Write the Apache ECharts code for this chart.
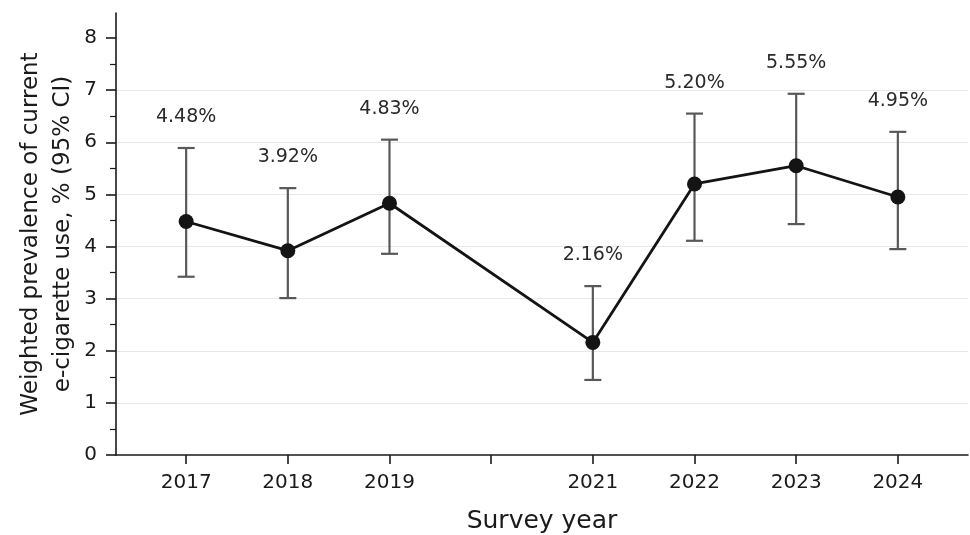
<!DOCTYPE html>
<html>
<head>
<meta charset="utf-8">
<script src="https://cdn.jsdelivr.net/npm/echarts@6/dist/echarts.min.js"></script>
<style>
  html, body { margin: 0; padding: 0; background: #ffffff; }
  #chart { width: 970px; height: 535px; }
</style>
</head>
<body>
<div id="chart"></div>
<script>
// Survey years and weighted prevalence of current e-cigarette use (%) with 95% CI
const years = [2017, 2018, 2019, 2021, 2022, 2023, 2024];
const prevalence = [4.48, 3.92, 4.83, 2.16, 5.20, 5.55, 4.95];
const ciLower = [3.42, 3.01, 3.86, 1.44, 4.11, 4.43, 3.95];
const ciUpper = [5.89, 5.12, 6.05, 3.24, 6.55, 6.93, 6.20];

// Axis ticks
const xTickYears = [2017, 2018, 2019, 2020, 2021, 2022, 2023, 2024];
const xLabelYears = [2017, 2018, 2019, 2021, 2022, 2023, 2024];
const yMajorTicks = [0, 1, 2, 3, 4, 5, 6, 7, 8];
const yMinorTicks = [0.5, 1.5, 2.5, 3.5, 4.5, 5.5, 6.5, 7.5];

const FONT = 'DejaVu Sans';
const linePoints = years.map((y, i) => [y, prevalence[i]]);
const ciData = years.map((y, i) => [y, ciLower[i], ciUpper[i], prevalence[i]]);

const chart = echarts.init(document.getElementById('chart'), null, { renderer: 'canvas' });

chart.setOption({
  animation: false,
  backgroundColor: '#ffffff',
  grid: { left: 116, right: 2, top: 13, bottom: 80, containLabel: false, outerBoundsMode: 'none' },
  xAxis: {
    type: 'value',
    min: 2016.31,
    max: 2024.69,
    name: 'Survey year',
    nameLocation: 'middle',
    nameGap: 54,
    nameMoveOverlap: false,
    nameTextStyle: { fontFamily: FONT, fontSize: 25, color: '#1a1a1a' },
    axisLine: { show: true, onZero: false, lineStyle: { color: '#1a1a1a', width: 1.6 } },
    axisTick: { show: true, customValues: xTickYears, length: 9, inside: false,
                lineStyle: { color: '#1a1a1a', width: 1.6 } },
    axisLabel: { customValues: xLabelYears, margin: 18, fontFamily: FONT, fontSize: 20, color: '#1a1a1a',
                 formatter: v => String(v) },
    splitLine: { show: false }
  },
  yAxis: [
    {
      type: 'value',
      min: 0,
      max: 8.48,
      interval: 1,
      name: 'Weighted prevalence of current\ne-cigarette use, % (95% CI)',
      nameLocation: 'middle',
      nameGap: 37,
      nameMoveOverlap: false,
      nameTextStyle: { fontFamily: FONT, fontSize: 23, color: '#1a1a1a', lineHeight: 32 },
      axisLine: { show: true, lineStyle: { color: '#1a1a1a', width: 1.6 } },
      axisTick: { show: true, customValues: yMajorTicks, length: 10,
                  lineStyle: { color: '#1a1a1a', width: 1.6 } },
      axisLabel: { customValues: yMajorTicks, margin: 19, fontFamily: FONT, fontSize: 20, color: '#1a1a1a',
                   formatter: v => String(v) },
      splitLine: { show: true, showMaxLine: false, showMinLine: false,
                   lineStyle: { color: '#e8e8e8', width: 1.2 } }
    },
    {
      // minor ticks on the left spine
      type: 'value',
      position: 'left',
      min: 0,
      max: 8.48,
      axisLine: { show: false },
      axisTick: { show: true, customValues: yMinorTicks, length: 6,
                  lineStyle: { color: '#1a1a1a', width: 1.2 } },
      axisLabel: { show: false },
      splitLine: { show: false }
    }
  ],
  series: [
    {
      // 95% confidence intervals with value labels above
      type: 'custom',
      z: 2,
      data: ciData,
      encode: { x: 0, y: [1, 2] },
      renderItem: function (params, api) {
        const x = api.value(0);
        const lo = api.coord([x, api.value(1)]);
        const hi = api.coord([x, api.value(2)]);
        const cap = 8.5;
        const style = { stroke: '#585858', lineWidth: 2.2 };
        return {
          type: 'group',
          children: [
            { type: 'line', shape: { x1: lo[0], y1: lo[1], x2: hi[0], y2: hi[1] }, style: style },
            { type: 'line', shape: { x1: hi[0] - cap, y1: hi[1], x2: hi[0] + cap, y2: hi[1] }, style: style },
            { type: 'line', shape: { x1: lo[0] - cap, y1: lo[1], x2: lo[0] + cap, y2: lo[1] }, style: style },
            { type: 'text', x: hi[0], y: hi[1] - 31,
              style: { text: api.value(3).toFixed(2) + '%', fontFamily: FONT, fontSize: 19,
                       fill: '#2a2a2a', align: 'center', verticalAlign: 'middle' } }
          ]
        };
      }
    },
    {
      type: 'line',
      z: 3,
      data: linePoints,
      symbol: 'circle',
      symbolSize: 15,
      lineStyle: { color: '#141414', width: 2.8 },
      itemStyle: { color: '#141414' }
    }
  ]
});
</script>
</body>
</html>
